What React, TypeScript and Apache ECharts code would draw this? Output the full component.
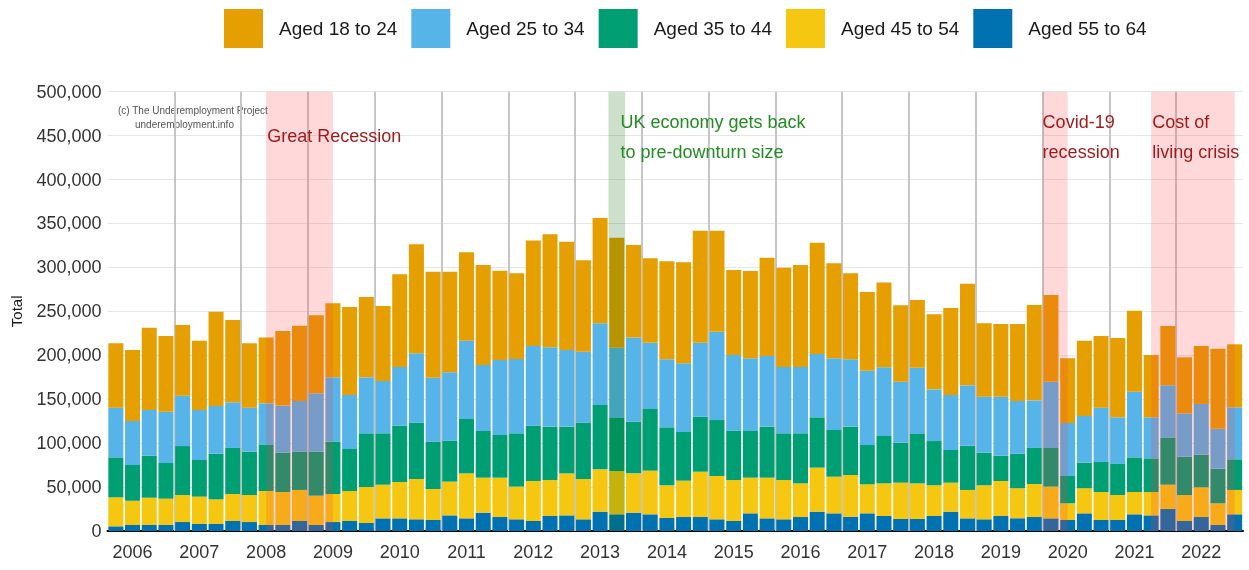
import React, { useEffect, useRef } from "react";
import * as echarts from "echarts";

// values in thousands, 2006 Q1 .. 2022 Q4
const years = ["2006","2007","2008","2009","2010","2011","2012","2013","2014","2015","2016","2017","2018","2019","2020","2021","2022"];
const quarters = ["Q1", "Q2", "Q3", "Q4"];

const age1824 = [73.2,80.8,93.7,86.2,80.5,78.9,107.3,93.7,73.2,74.8,84.9,85.7,88.8,84.2,100.2,91.4,85.4,105.4,124.1,120.7,114.6,100.6,113.9,101.7,97.5,119.9,128.6,123.3,104.0,119.9,125.2,105.4,95.9,111.5,115.0,127.4,114.9,96.8,99.4,111.9,113.0,116.1,126.7,108.2,97.9,89.5,96.4,86.9,77.0,85.4,99.0,115.7,83.5,82.7,87.6,108.5,98.6,73.6,85.7,81.6,90.3,92.2,70.9,67.5,63.8,66.0,91.0,71.7];
const age2534 = [56.6,50.1,52.0,58.4,57.3,56.9,54.3,52.0,50.1,46.7,53.5,57.7,66.4,73.2,61.5,63.7,59.5,66.8,78.9,72.8,77.8,89.1,75.1,85.3,84.6,90.7,90.3,87.2,80.8,93.0,80.1,95.7,75.5,77.4,78.1,84.3,100.6,86.1,82.7,80.4,75.5,75.5,72.1,81.5,76.6,84.6,78.2,69.5,75.5,58.8,62.6,68.7,63.7,67.2,60.0,54.2,75.5,60.3,53.1,61.9,53.1,74.8,46.7,59.9,49.3,57.7,45.6,59.2];
const age3544 = [45.5,40.6,47.8,40.6,55.7,41.7,52.0,52.4,49.3,53.1,44.8,43.6,50.1,59.6,47.8,61.1,58.5,64.1,64.1,53.9,46.6,61.9,53.1,48.6,60.7,63.0,60.8,53.2,64.1,73.2,60.3,58.8,70.2,66.0,55.4,62.6,63.7,56.2,53.1,58.1,53.2,57.0,57.3,53.2,55.1,44.8,53.9,45.5,56.2,50.4,37.2,50.4,37.2,28.8,39.4,41.0,44.0,31.1,29.2,34.1,35.3,39.4,38.3,53.2,43.6,37.2,39.4,34.9];
const age4554 = [33.0,27.7,31.1,30.0,30.8,31.1,28.0,30.7,30.8,38.7,37.6,35.3,33.4,31.9,34.1,41.0,38.3,41.4,45.9,35.3,38.4,51.2,39.8,44.8,37.2,45.5,40.9,47.8,45.9,48.2,49.3,44.7,49.7,37.2,41.4,51.6,49.3,46.6,40.6,46.3,44.7,38.3,50.1,41.7,47.4,33.0,37.1,41.3,40.5,34.9,33.0,32.3,38.7,39.8,34.2,37.6,36.1,19.0,28.5,31.9,28.5,25.4,26.6,27.7,29.6,33.8,24.7,27.7];
const age5564 = [5.3,6.8,6.8,6.8,10.2,8.0,8.0,11.4,10.2,6.8,6.8,11.4,6.8,10.2,11.4,9.1,14.4,14.4,13.3,12.5,17.8,14.4,20.9,15.9,13.3,11.4,17.1,17.8,13.3,22.0,19.0,20.9,19.0,14.8,15.9,15.9,13.3,11.4,20.1,14.4,13.3,15.9,22.0,20.1,16.3,20.1,17.1,13.7,13.7,17.1,22.0,14.4,13.3,17.1,14.4,15.9,14.4,12.5,20.1,12.5,12.5,19.0,17.8,25.0,11.4,15.9,6.8,19.0];

const seriesNames = ["Aged 18 to 24", "Aged 25 to 34", "Aged 35 to 44", "Aged 45 to 54", "Aged 55 to 64"];
const seriesColors = ["#E69F00", "#56B4E9", "#009E73", "#F5C710", "#0072B2"];

// year boundaries (between Q4 and Q1), in quarter-index units
const yearBoundaries = [3.5, 7.5, 11.5, 15.5, 19.5, 23.5, 27.5, 31.5, 35.5, 39.5, 43.5, 47.5, 51.5, 55.5, 59.5, 63.5];

// shaded periods, in quarter-index units
const periods = [
  { label: "Great Recession", start: 9, end: 13, kind: "red", offset: [1, 29] },
  { label: "UK economy gets back\nto pre-downturn size", start: 29.5, end: 30.5, kind: "green", offset: [12, 15] },
  { label: "Covid-19\nrecession", start: 55.5, end: 57, kind: "red", offset: [0, 15] },
  { label: "Cost of\nliving crisis", start: 62, end: 67, kind: "red", offset: [1, 15] },
];

const categories: string[] = [];
years.forEach((y) => quarters.forEach((q) => categories.push(y + " " + q)));

export default function App() {
  const ref = useRef<HTMLDivElement>(null);
  useEffect(() => {
    if (!ref.current) return;
    const chart = echarts.init(ref.current, null, { renderer: "svg" });
    const stackData = [age5564, age4554, age3544, age2534, age1824];
    const stackNames = [seriesNames[4], seriesNames[3], seriesNames[2], seriesNames[1], seriesNames[0]];
    const stackColors = [seriesColors[4], seriesColors[3], seriesColors[2], seriesColors[1], seriesColors[0]];
    const bars = stackData.map((d, i) => ({
      name: stackNames[i],
      type: "bar",
      stack: "total",
      barCategoryGap: "10%",
      z: 2,
      itemStyle: { color: stackColors[i] },
      data: d.map((v) => Math.round(v * 1000)),
    }));
    chart.setOption({
      animation: false,
      textStyle: { fontFamily: "Liberation Sans, Arial, sans-serif" },
      legend: {
        data: seriesNames,
        left: 224,
        top: 9,
        padding: 0,
        itemWidth: 39,
        itemHeight: 39,
        itemGap: 14,
        icon: "rect",
        selectedMode: false,
        textStyle: { fontSize: 19, color: "#1a1a1a", padding: [0, 0, 0, 11] },
      },
      graphic: [
        { type: "text", left: 118, top: 105, style: { text: "(c) The Underemployment Project", fontSize: 10, fill: "#555", fontFamily: "Liberation Sans, Arial, sans-serif" } },
        { type: "text", left: 135, top: 119, style: { text: "underemployment.info", fontSize: 10, fill: "#555", fontFamily: "Liberation Sans, Arial, sans-serif" } },
      ],
      grid: { left: 107.5, right: 6, top: 91.7, bottom: 39, outerBoundsMode: "none", containLabel: false },
      xAxis: [
        {
          type: "category",
          data: categories,
          axisLine: { lineStyle: { color: "#000", width: 2 } },
          axisTick: { interval: 0, alignWithLabel: true, length: 5, lineStyle: { color: "#000", width: 2 } },
          axisLabel: {
            interval: (i: number) => i % 4 === 1,
            formatter: (v: string) => v.slice(0, 4),
            fontSize: 18,
            color: "#333",
            margin: 12,
          },
          splitLine: { show: false },
        },
        { type: "value", min: -0.5, max: 67.5, show: false },
      ],
      yAxis: {
        type: "value",
        min: 0,
        max: 500000,
        interval: 50000,
        name: "Total",
        nameLocation: "middle",
        nameRotate: 90,
        nameGap: 84,
        nameTextStyle: { fontSize: 15, color: "#1a1a1a" },
        axisLine: { show: false },
        axisTick: { show: false },
        axisLabel: {
          fontSize: 18,
          color: "#333",
          margin: 6,
          formatter: (v: number) => v.toLocaleString("en-US"),
        },
        splitLine: { lineStyle: { color: "#E6E6E6", width: 1 } },
      },
      series: [
        {
          type: "line",
          name: "yearLines",
          xAxisIndex: 1,
          data: [],
          z: 1,
          silent: true,
          markLine: {
            silent: true,
            z: 1,
            symbol: ["none", "none"],
            label: { show: false },
            lineStyle: { color: "#C6C6C6", width: 2, type: "solid" },
            data: yearBoundaries.map((b) => ({ xAxis: b })),
          },
        },
        ...bars,
        {
          type: "line",
          name: "periods",
          xAxisIndex: 1,
          data: [],
          z: 10,
          silent: true,
          markArea: {
            silent: true,
            z: 10,
            data: periods.map((p) => [
              {
                name: p.label,
                xAxis: p.start,
                itemStyle: { color: p.kind === "red" ? "rgba(255,60,70,0.2)" : "rgba(0,100,0,0.2)" },
                label: {
                  show: true,
                  position: "insideTopLeft",
                  distance: 0,
                  offset: p.offset,
                  fontSize: 18,
                  lineHeight: 30,
                  color: p.kind === "red" ? "#9E1A1A" : "#228B22",
                  fontFamily: "Liberation Sans, Arial, sans-serif",
                },
              },
              { xAxis: p.end },
            ]),
          },
        },
      ],
    });
    return () => chart.dispose();
  }, []);
  return <div ref={ref} style={{ position: "fixed", left: 0, top: 0, width: 1249, height: 570 }} />;
}
